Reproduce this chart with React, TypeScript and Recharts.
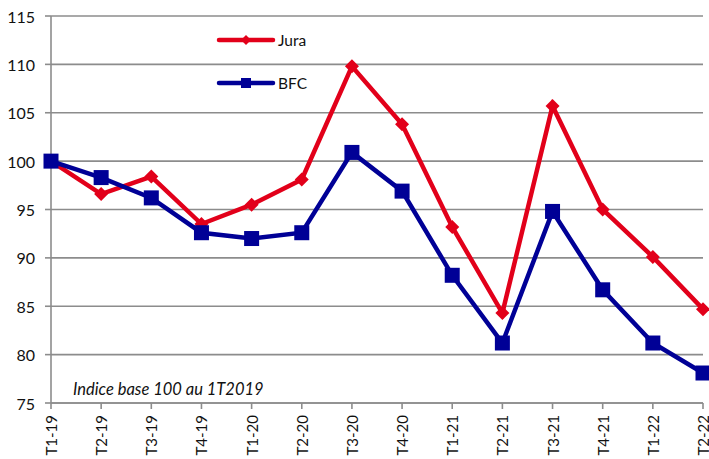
import React from "react";
import { LineChart, Line, XAxis, YAxis, CartesianGrid } from "recharts";

const categories = ["T1-19","T2-19","T3-19","T4-19","T1-20","T2-20","T3-20","T4-20","T1-21","T2-21","T3-21","T4-21","T1-22","T2-22"];
const jura = [100, 96.6, 98.4, 93.5, 95.5, 98.1, 109.8, 103.8, 93.2, 84.3, 105.7, 95.0, 90.1, 84.7];
const bfc = [100, 98.3, 96.2, 92.6, 92.0, 92.6, 100.9, 96.9, 88.2, 81.2, 94.8, 86.7, 81.2, 78.1];
const yTicks = [75, 80, 85, 90, 95, 100, 105, 110, 115];

const data = categories.map((c, i) => ({ cat: c, Jura: jura[i], BFC: bfc[i] }));

const RED = "#E2001A";
const BLUE = "#000096";
const GRID = "#8C8C8C";
const FONT = "Lato, 'Noto Sans', sans-serif";

const Diamond = (props: any) => {
  const { cx, cy } = props;
  if (cx == null || cy == null) return null;
  const r = 7;
  return <path d={`M${cx},${cy - r} L${cx + r},${cy} L${cx},${cy + r} L${cx - r},${cy} Z`} fill={RED} />;
};

const Square = (props: any) => {
  const { cx, cy } = props;
  if (cx == null || cy == null) return null;
  const s = 7.5;
  return <rect x={cx - s} y={cy - s} width={2 * s} height={2 * s} fill={BLUE} />;
};

const XTick = (props: any) => {
  const { x, y, payload } = props;
  return (
    <g transform={`translate(${x},${y})`}>
      <text transform="rotate(-90)" x={-4} y={0} textAnchor="end" dominantBaseline="central" fill="#111" fontSize={15} fontFamily={FONT}>
        {payload.value}
      </text>
    </g>
  );
};

const YTick = (props: any) => {
  const { x, y, payload } = props;
  return (
    <text x={x} y={y} textAnchor="end" dominantBaseline="central" fill="#111" fontSize={16} fontFamily={FONT}>
      {payload.value}
    </text>
  );
};

export default function App() {
  return (
    <div style={{ position: "absolute", left: 0, top: 0, width: 709, height: 459, background: "#fff" }}>
      <LineChart width={709} height={459} data={data} margin={{ top: 16, right: 6, bottom: 0, left: 0 }}>
        <CartesianGrid horizontal={true} vertical={false} stroke={GRID} strokeWidth={1.6} />
        <XAxis
          dataKey="cat"
          interval={0}
          height={56}
          stroke={GRID}
          strokeWidth={1.6}
          tickLine={{ stroke: GRID, strokeWidth: 1.6 }}
          tickSize={6}
          tick={<XTick />}
        />
        <YAxis
          domain={[75, 115]}
          ticks={yTicks}
          width={51}
          stroke={GRID}
          strokeWidth={1.6}
          tickLine={{ stroke: GRID, strokeWidth: 1.6 }}
          tickSize={6}
          tickMargin={10}
          tick={<YTick />}
          allowDataOverflow
        />
        <Line type="linear" dataKey="Jura" stroke={RED} strokeWidth={4.5} dot={<Diamond />} activeDot={false} isAnimationActive={false} />
        <Line type="linear" dataKey="BFC" stroke={BLUE} strokeWidth={4.5} dot={<Square />} activeDot={false} isAnimationActive={false} />
      </LineChart>
      <svg style={{ position: "absolute", left: 214, top: 30 }} width={120} height={70}>
        <line x1={5} y1={10} x2={59} y2={10} stroke={RED} strokeWidth={4.5} strokeLinecap="round" />
        <path d="M32,5 L37,10 L32,15 L27,10 Z" fill={RED} />
        <text x={64} y={10} dominantBaseline="central" fontSize={15.5} fontFamily={FONT} fill="#111">Jura</text>
        <line x1={5} y1={53} x2={59} y2={53} stroke={BLUE} strokeWidth={4.5} strokeLinecap="round" />
        <rect x={27} y={48} width={10} height={10} fill={BLUE} />
        <text x={64} y={53} dominantBaseline="central" fontSize={15.5} fontFamily={FONT} fill="#111">BFC</text>
      </svg>
      <div style={{ position: "absolute", left: 73, top: 379, fontFamily: FONT, fontStyle: "italic", fontSize: 16.5, color: "#111", whiteSpace: "nowrap", lineHeight: "20px" }}>
        Indice base 100 au 1T2019
      </div>
    </div>
  );
}
